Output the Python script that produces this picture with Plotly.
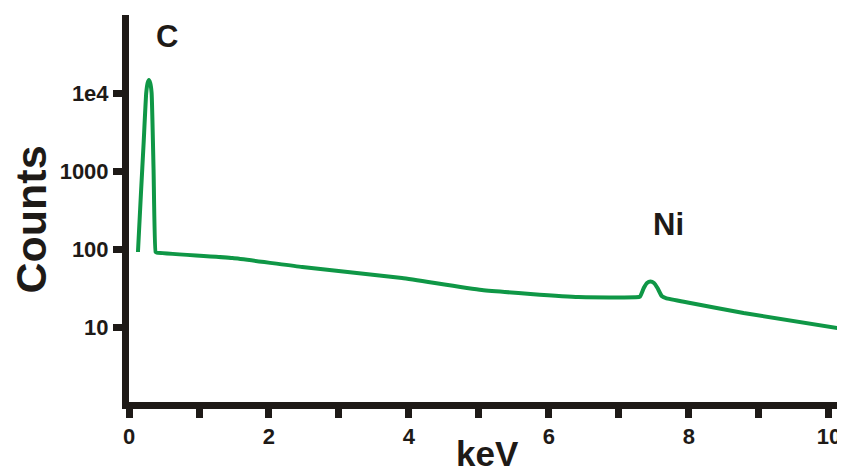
import plotly.graph_objects as go

# Energy (keV) and counts
energy_kev = [0.128, 0.171, 0.209, 0.246, 0.266, 0.284, 0.303, 0.323, 0.351, 0.380, 0.395,
              1.48, 2.475, 3.90, 5.04, 6.42, 7.24, 7.30, 7.354, 7.40, 7.45, 7.50, 7.55,
              7.61, 7.67, 8.0, 8.78, 10.15]
counts = [91.5, 522, 2285, 10000, 13400, 14680, 13400, 10000, 1030, 91.5, 90,
          76.7, 58.8, 42.5, 29.8, 24.2, 24.0, 24.5, 31.6, 36.7, 38.3, 36.7, 31.6,
          25.0, 23.5, 20.5, 15.1, 9.6]

x_tickvals = [0, 1, 2, 3, 4, 5, 6, 7, 8, 9, 10]
x_ticktext = ["0", "", "2", "", "4", "", "6", "", "8", "", "10"]
y_tickvals = [10, 100, 1000, 10000]
y_ticktext = ["10", "100", "1000", "1e4"]

peak_labels = ["C", "Ni"]
peak_x = [0.548, 7.71]
peak_logy = [4.73, 2.31]

FONT = "Liberation Sans, Arial, sans-serif"
DARK = "#1e1a17"
GREEN = "#0f9746"

fig = go.Figure()
fig.add_trace(go.Scatter(
    x=energy_kev, y=counts, mode="lines",
    line=dict(color=GREEN, width=4, shape="spline", smoothing=0.4),
    showlegend=False, hoverinfo="skip",
))

for lab, px_, py_ in zip(peak_labels, peak_x, peak_logy):
    fig.add_annotation(x=px_, y=py_, xref="x", yref="y", text=lab, showarrow=False,
                       font=dict(family=FONT, size=31, color=DARK, weight="bold"))

fig.add_annotation(text="Counts", xref="paper", yref="paper", x=0, y=0.5, xanchor="center",
                   yanchor="middle", xshift=-99, yshift=-11, textangle=-90, showarrow=False,
                   font=dict(family=FONT, size=43, color=DARK, weight="bold"))
fig.add_annotation(text="keV", xref="paper", yref="paper", x=0.5, y=0, xanchor="center",
                   yanchor="middle", yshift=-51, showarrow=False,
                   font=dict(family=FONT, size=35, color=DARK, weight="bold"))

fig.update_layout(
    width=837, height=467,
    margin=dict(l=121, r=0, t=7, b=73),
    paper_bgcolor="white", plot_bgcolor="white",
    xaxis=dict(range=[0, 10.229], tickvals=x_tickvals, ticktext=x_ticktext,
               showgrid=False, zeroline=False, showline=True, linecolor=DARK, linewidth=7,
               ticks="outside", ticklen=9, tickwidth=7, tickcolor=DARK,
               tickfont=dict(family=FONT, size=22, color=DARK, weight="bold")),
    yaxis=dict(type="log", range=[0.0385, 5], tickvals=y_tickvals, ticktext=y_ticktext,
               showgrid=False, zeroline=False, showline=True, linecolor=DARK, linewidth=7,
               ticks="outside", ticklen=9, tickwidth=7, tickcolor=DARK,
               tickfont=dict(family=FONT, size=22, color=DARK, weight="bold")),
)

fig.write_html("out.html")
